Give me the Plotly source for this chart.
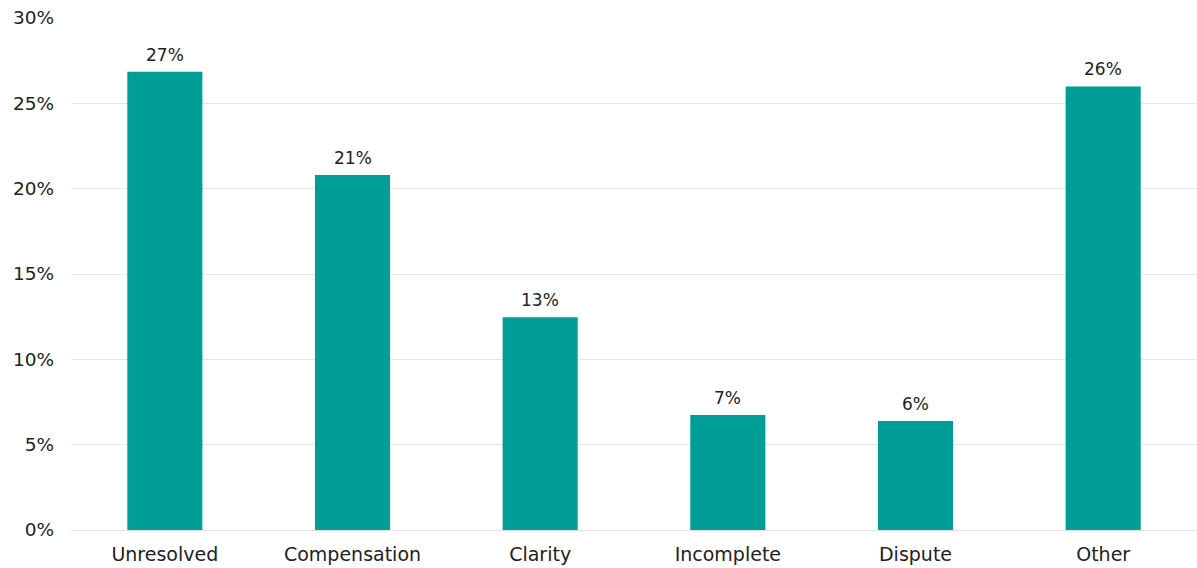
import plotly.graph_objects as go

categories = ["Unresolved", "Compensation", "Clarity", "Incomplete", "Dispute", "Other"]
values = [26.85, 20.8, 12.47, 6.74, 6.39, 25.99]
labels = ["27%", "21%", "13%", "7%", "6%", "26%"]
tick_vals = [0, 5, 10, 15, 20, 25, 30]
tick_text = ["0%", "5%", "10%", "15%", "20%", "25%", "30%"]

FONT = "'DejaVu Sans', sans-serif"
TXT = "#222222"

fig = go.Figure(go.Bar(
    x=categories, y=values,
    marker=dict(color="#009E96", line=dict(width=0)),
    hoverinfo="x+y",
))

for c, v, t in zip(categories, values, labels):
    fig.add_annotation(x=c, y=v, text=t, showarrow=False, yanchor="bottom",
                       yshift=5, font=dict(family=FONT, size=17, color=TXT))

fig.update_layout(
    width=1197, height=568,
    margin=dict(l=71, r=0, t=18, b=38),
    paper_bgcolor="white", plot_bgcolor="white",
    bargap=0.6,
    showlegend=False,
    font=dict(family=FONT, size=18, color=TXT),
    xaxis=dict(showgrid=False, showline=False, ticks="", tickfont=dict(size=19, color=TXT),
               ticklabelstandoff=11),
    yaxis=dict(range=[0, 30], tickvals=tick_vals, ticktext=tick_text, showgrid=True,
               gridcolor="#e6e6e6", gridwidth=1.3, zeroline=True, zerolinecolor="#e0e0e0",
               zerolinewidth=1.3, showline=False, ticks="", ticklabelstandoff=16,
               tickfont=dict(size=18.5, color=TXT)),
)

fig.write_html("out.html")
